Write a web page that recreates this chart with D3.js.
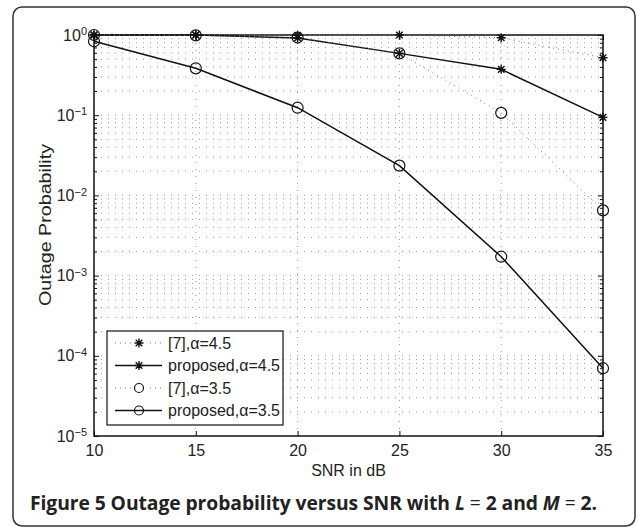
<!DOCTYPE html>
<html>
<head>
<meta charset="utf-8">
<script src="https://cdn.jsdelivr.net/npm/d3@7"></script>
<style>
  html, body { margin: 0; padding: 0; background: #fff; }
  svg { display: block; }
  text { font-family: "Liberation Sans", Arial, Helvetica, sans-serif; fill: #222; }
</style>
</head>
<body>
<svg id="chart" width="637" height="527"></svg>
<script>
// ---- data ----
const snr = [10, 15, 20, 25, 30, 35];
const ref45 = [1.0, 1.0, 0.99, 1.0, 0.925, 0.52];
const prop45 = [1.0, 1.0, 0.92, 0.59, 0.373, 0.094];
const ref35 = [1.0, 0.99, 0.93, 0.59, 0.107, 0.0065];
const prop35 = [0.835, 0.384, 0.124, 0.0235, 0.00172, 0.00007];
const xTicks = [10, 15, 20, 25, 30, 35];
const yExponents = [0, -1, -2, -3, -4, -5];
const seriesNames = ["[7],\u03B1=4.5", "proposed,\u03B1=4.5", "[7],\u03B1=3.5", "proposed,\u03B1=3.5"];

const series = [
  { name: seriesNames[0], values: ref45, marker: "star", dashed: true },
  { name: seriesNames[1], values: prop45, marker: "star", dashed: false },
  { name: seriesNames[2], values: ref35, marker: "circle", dashed: true },
  { name: seriesNames[3], values: prop35, marker: "circle", dashed: false }
];

const svg = d3.select("#chart");

// frame
svg.append("rect").attr("x", 13).attr("y", 7).attr("width", 622).attr("height", 519)
  .attr("rx", 9).attr("ry", 9).attr("fill", "none").attr("stroke", "#333").attr("stroke-width", 1.5);

const L = 94, R = 603, T = 35, B = 436;
const x = d3.scaleLinear().domain([10, 35]).range([L, R]);
const y = d3.scaleLog().domain([1e-5, 1]).range([B, T]);

// grid
const grid = svg.append("g").attr("stroke", "#999").attr("stroke-width", 1)
  .attr("stroke-dasharray", "1,6").attr("fill", "none");
xTicks.slice(1, -1).forEach(v => {
  grid.append("line").attr("x1", x(v)).attr("x2", x(v)).attr("y1", B).attr("y2", T);
});
const yGridVals = [];
for (let e = -5; e < 0; e++) for (let k = 1; k <= 9; k++) yGridVals.push(k * Math.pow(10, e));
yGridVals.slice(1).forEach(v => {
  grid.append("line").attr("x1", L).attr("x2", R).attr("y1", y(v)).attr("y2", y(v));
});

// axes
const axisStyle = g => {
  g.select(".domain").remove();
  g.selectAll(".tick line").attr("stroke", "#111").attr("stroke-width", 1);
  g.selectAll("text").style("font-size", "16px").attr("fill", "#222");
};
svg.append("g").attr("transform", `translate(0,${B})`)
  .call(d3.axisBottom(x).tickValues(xTicks).tickSizeInner(-5).tickSizeOuter(0).tickPadding(9).tickFormat(d3.format("d")))
  .call(axisStyle);
svg.append("g").attr("transform", `translate(0,${T})`)
  .call(d3.axisTop(x).tickValues(xTicks).tickSizeInner(-5).tickSizeOuter(0).tickFormat(""))
  .call(axisStyle);

const yMajor = yExponents.map(e => Math.pow(10, e));
const yMinor = yGridVals.filter(v => !yMajor.some(m => Math.abs(m - v) < 1e-12));
const yAxisL = svg.append("g").attr("transform", `translate(${L},0)`)
  .call(d3.axisLeft(y).tickValues(yMajor).tickSizeInner(-5).tickSizeOuter(0).tickPadding(8).tickFormat(""))
  .call(axisStyle);
svg.append("g").attr("transform", `translate(${L},0)`)
  .call(d3.axisLeft(y).tickValues(yMinor).tickSizeInner(-3).tickSizeOuter(0).tickFormat(""))
  .call(axisStyle);
svg.append("g").attr("transform", `translate(${R},0)`)
  .call(d3.axisRight(y).tickValues(yMajor).tickSizeInner(-5).tickSizeOuter(0).tickFormat(""))
  .call(axisStyle);
svg.append("g").attr("transform", `translate(${R},0)`)
  .call(d3.axisRight(y).tickValues(yMinor).tickSizeInner(-3).tickSizeOuter(0).tickFormat(""))
  .call(axisStyle);

// y tick labels with superscript exponent
yAxisL.selectAll(".tick").each(function(d) {
  const e = Math.round(Math.log10(d));
  const t = d3.select(this).select("text");
  t.text(null).attr("x", -7).attr("dy", "0.32em").attr("text-anchor", "end");
  t.append("tspan").text("10");
  t.append("tspan").attr("dy", "-0.5em").style("font-size", "11px")
    .text(e === 0 ? "0" : "\u2212" + Math.abs(e));
});

// box
svg.append("rect").attr("x", L).attr("y", T).attr("width", R - L).attr("height", B - T)
  .attr("fill", "none").attr("stroke", "#111").attr("stroke-width", 1.5);

// markers
function drawMarker(g, mx, my, type) {
  if (type === "circle") {
    g.append("circle").attr("cx", mx).attr("cy", my).attr("r", 5.5)
      .attr("fill", "none").attr("stroke", "#111").attr("stroke-width", 1.2);
  } else {
    const s = 4.5, d = 3.3;
    const p = `M${mx - s},${my}L${mx + s},${my}M${mx},${my - s}L${mx},${my + s}` +
      `M${mx - d},${my - d}L${mx + d},${my + d}M${mx - d},${my + d}L${mx + d},${my - d}`;
    g.append("path").attr("d", p).attr("stroke", "#111").attr("stroke-width", 1.4).attr("fill", "none");
  }
}

const line = d3.line().x((d, i) => x(snr[i])).y(d => y(d));
const plot = svg.append("g");
series.forEach(s => {
  plot.append("path").datum(s.values).attr("d", line).attr("fill", "none")
    .attr("stroke", s.dashed ? "#777" : "#111")
    .attr("stroke-width", s.dashed ? 1 : 1.5)
    .attr("stroke-dasharray", s.dashed ? "1,4" : null);
});
series.forEach(s => {
  s.values.forEach((v, i) => drawMarker(plot, x(snr[i]), y(v), s.marker));
});

// legend
const lg = svg.append("g");
lg.append("rect").attr("x", 107).attr("y", 331).attr("width", 176).attr("height", 94)
  .attr("fill", "#fff").attr("stroke", "#111").attr("stroke-width", 1.2);
series.forEach((s, i) => {
  const ly = 343 + i * 22.5;
  lg.append("line").attr("x1", 115).attr("x2", 162).attr("y1", ly).attr("y2", ly)
    .attr("stroke", s.dashed ? "#777" : "#111").attr("stroke-width", s.dashed ? 1 : 1.5)
    .attr("stroke-dasharray", s.dashed ? "1,4" : null);
  if (s.dashed) {
    lg.append("rect").attr("x", 132).attr("y", ly - 6).attr("width", 14).attr("height", 12).attr("fill", "#fff");
  }
  if (s.marker === "circle") {
    lg.append("circle").attr("cx", 139).attr("cy", ly).attr("r", 4.5)
      .attr("fill", s.dashed ? "#fff" : "none").attr("stroke", "#111").attr("stroke-width", 1.2);
  } else {
    drawMarker(lg, 139, ly, "star");
  }
  lg.append("text").attr("x", 168).attr("y", ly).attr("dy", "0.35em")
    .style("font-size", "16px").text(s.name);
});

// axis titles
svg.append("text").attr("x", (L + R) / 2).attr("y", 476).attr("text-anchor", "middle")
  .style("font-size", "16px").text("SNR in dB");
svg.append("text").attr("transform", "translate(51,225) rotate(-90)").attr("text-anchor", "middle")
  .attr("textLength", 162).attr("lengthAdjust", "spacingAndGlyphs")
  .style("font-size", "16px").text("Outage Probability");

// caption
const cap = svg.append("text").attr("x", 30).attr("y", 510)
  .attr("textLength", 567).attr("lengthAdjust", "spacing")
  .style("font-family", "'Open Sans', 'Noto Sans', sans-serif").style("font-weight", "bold")
  .style("font-size", "19.3px").attr("fill", "#111");
cap.append("tspan").text("Figure 5 Outage probability versus SNR with ");
cap.append("tspan").style("font-style", "italic").text("L");
cap.append("tspan").style("font-weight", "normal").text(" = ");
cap.append("tspan").text("2 and ");
cap.append("tspan").style("font-style", "italic").text("M");
cap.append("tspan").style("font-weight", "normal").text(" = ");
cap.append("tspan").text("2.");
</script>
</body>
</html>
